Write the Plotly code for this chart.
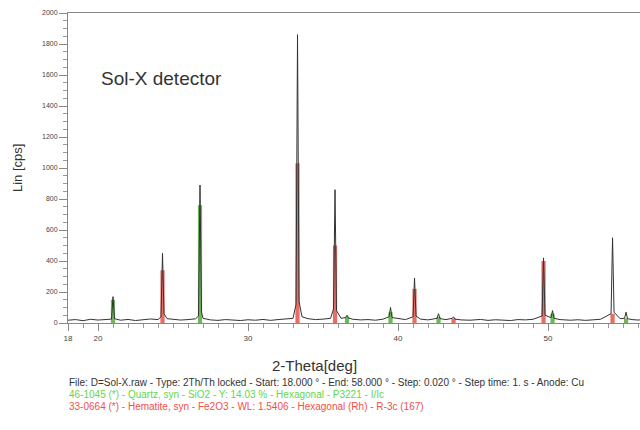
import plotly.graph_objects as go

# ---------------- data ----------------
meas_2theta = [18.0, 18.5, 19.0, 19.5, 20.0, 20.5, 20.9, 21.0, 21.1, 21.5, 22.0, 22.5, 23.0, 23.5,
               24.0, 24.2, 24.3, 24.4, 24.6, 25.0, 25.5, 26.0, 26.5, 26.7, 26.8, 26.9, 27.0, 27.5,
               28.0, 28.5, 29.0, 29.5, 30.0, 30.5, 31.0, 31.5, 32.0, 32.5, 33.0, 33.2, 33.3, 33.4,
               33.6, 34.0, 34.5, 35.0, 35.5, 35.7, 35.8, 35.9, 36.2, 36.5, 36.6, 36.7, 37.0, 37.5,
               38.0, 38.5, 39.0, 39.4, 39.5, 39.6, 40.0, 40.5, 41.0, 41.1, 41.2, 41.5, 42.0, 42.6,
               42.7, 42.8, 43.2, 43.6, 43.7, 43.8, 44.2, 44.8, 45.5, 46.0, 46.5, 47.0, 47.5, 48.0,
               48.5, 49.0, 49.6, 49.7, 49.8, 50.2, 50.3, 50.4, 50.8, 51.5, 52.0, 52.5, 53.0, 53.5,
               54.2, 54.3, 54.4, 54.8, 55.1, 55.2, 55.3, 55.6, 56.0, 56.2]
meas_counts = [18, 22, 15, 24, 19, 21, 25, 170, 28, 18, 23, 16, 21, 26,
               22, 40, 450, 60, 28, 24, 19, 22, 27, 45, 890, 70, 30, 20,
               17, 22, 19, 16, 21, 18, 23, 17, 22, 26, 30, 120, 1860, 140,
               40, 28, 22, 25, 30, 90, 860, 80, 30, 35, 50, 32, 24, 20,
               22, 18, 25, 40, 100, 35, 28, 22, 40, 290, 45, 25, 20, 30,
               60, 28, 22, 30, 40, 25, 20, 18, 23, 17, 21, 19, 16, 22,
               20, 24, 45, 420, 50, 35, 80, 30, 22, 18, 21, 17, 22, 24,
               60, 550, 70, 28, 30, 70, 28, 22, 19, 21]

hematite_2theta = [24.3, 33.3, 35.8, 41.1, 43.7, 49.7, 54.3]
hematite_counts = [340, 1030, 500, 220, 30, 400, 60]

quartz_2theta = [21.0, 26.8, 36.6, 39.5, 42.7, 50.3, 55.2]
quartz_counts = [150, 760, 40, 70, 40, 60, 30]

x_tick_vals = [18, 20, 30, 40, 50]
x_tick_text = ["18", "20", "30", "40", "50"]
y_tick_vals = [0, 200, 400, 600, 800, 1000, 1200, 1400, 1600, 1800, 2000]

chart_label = "Sol-X detector"
x_title = "2-Theta[deg]"
y_title = "Lin [cps]"
info_lines = [
    ("File: D=Sol-X.raw - Type: 2Th/Th locked - Start: 18.000 ° - End: 58.000 ° - Step: 0.020 ° - Step time: 1. s - Anode: Cu", "#333333"),
    ("46-1045 (*) - Quartz, syn - SiO2 - Y: 14.03 % - Hexagonal - P3221 - I/Ic", "#66d64a"),
    ("33-0664 (*) - Hematite, syn - Fe2O3 - WL: 1.5406 - Hexagonal (Rh) - R-3c (167)", "#f0504a"),
]

# ---------------- figure ----------------
fig = go.Figure()
fig.add_trace(go.Bar(x=quartz_2theta, y=quartz_counts, width=0.28,
                     marker=dict(color="rgba(95,175,75,0.9)", line=dict(width=0))))
fig.add_trace(go.Bar(x=hematite_2theta, y=hematite_counts, width=0.28,
                     marker=dict(color="rgba(225,85,75,0.85)", line=dict(width=0))))
fig.add_trace(go.Scatter(x=meas_2theta, y=meas_counts, mode="lines",
                         line=dict(color="#333333", width=1)))

font_fam = "Liberation Sans, Arial, sans-serif"
fig.update_layout(
    width=640, height=430,
    margin=dict(l=68, r=0, t=13, b=107),
    paper_bgcolor="white", plot_bgcolor="white",
    showlegend=False, barmode="overlay",
    font=dict(family=font_fam, color="#444444"),
    xaxis=dict(range=[18, 56.13], showgrid=False, zeroline=False,
               showline=True, linecolor="#888888", linewidth=1, mirror=True,
               tickmode="array", tickvals=x_tick_vals, ticktext=x_tick_text,
               ticks="outside", ticklen=7, tickcolor="#888888",
               tickfont=dict(size=8, color="#444444"),
               minor=dict(dtick=1, ticks="outside", ticklen=4, tickcolor="#999999")),
    yaxis=dict(range=[0, 2000], showgrid=False, zeroline=False,
               showline=True, linecolor="#888888", linewidth=1,
               tickmode="array", tickvals=y_tick_vals,
               ticks="outside", ticklen=8, tickcolor="#888888",
               tickfont=dict(size=7, color="#444444"),
               minor=dict(dtick=50, ticks="outside", ticklen=4, tickcolor="#999999")),
)

def py(px):
    return (323 - px) / 310.0

def pxx(px):
    return (px - 68) / 572.0

annots = [
    dict(text=chart_label, x=pxx(99), y=py(78), xref="paper", yref="paper",
         xanchor="left", yanchor="middle", showarrow=False,
         font=dict(size=19, color="#333333")),
    dict(text=x_title, x=pxx(314), y=py(365), xref="paper", yref="paper",
         xanchor="center", yanchor="middle", showarrow=False,
         font=dict(size=15, color="#333333")),
    dict(text=y_title, x=pxx(17), y=py(168), xref="paper", yref="paper",
         xanchor="center", yanchor="middle", showarrow=False, textangle=-90,
         font=dict(size=13, color="#333333")),
]
for i, (txt, col) in enumerate(info_lines):
    annots.append(dict(text=txt, x=pxx(67), y=py(382 + 12 * i),
                       xref="paper", yref="paper", xanchor="left", yanchor="middle",
                       showarrow=False, font=dict(size=10, color=col)))
fig.update_layout(annotations=annots)

fig.write_html("out.html")
